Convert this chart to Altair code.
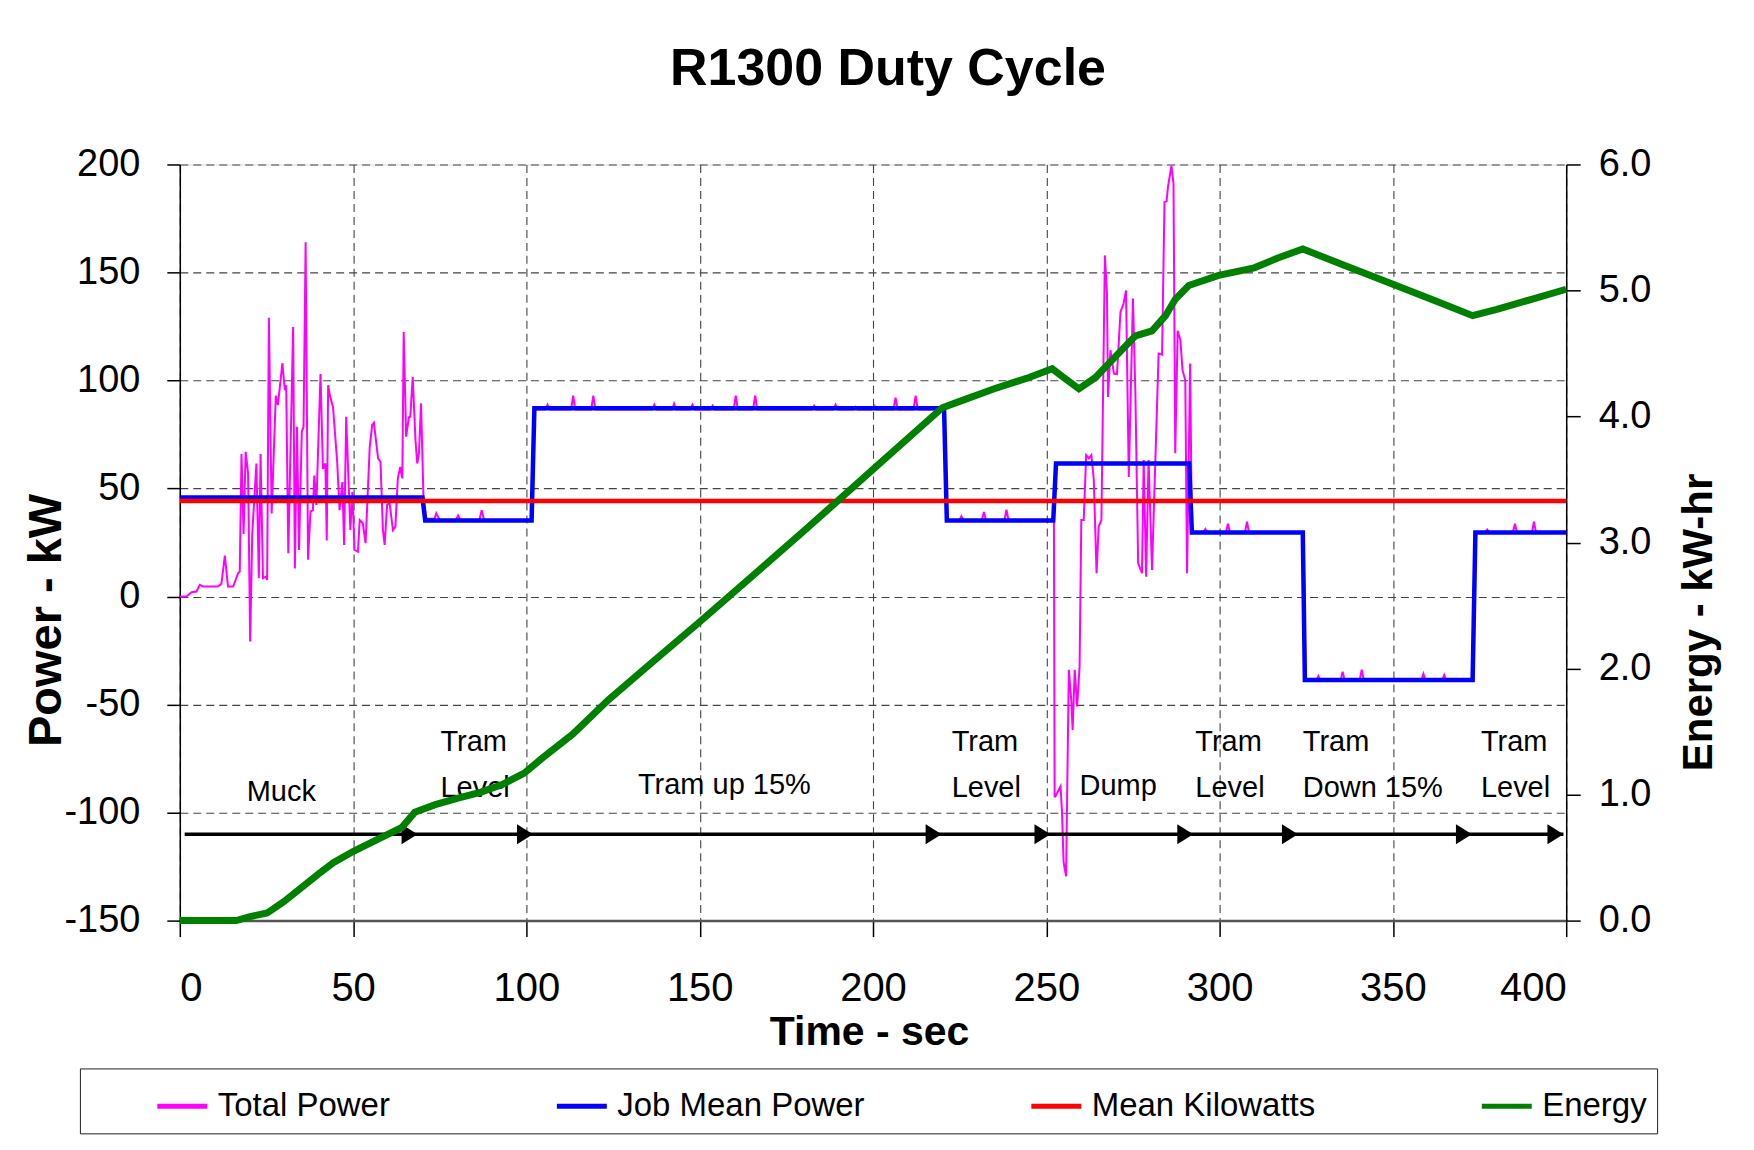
import altair as alt
import pandas as pd

FONT = "Liberation Sans, Arial, sans-serif"

# ---------------- data ----------------
SERIES = ["Total Power", "Job Mean Power", "Mean Kilowatts", "Energy"]
SERIES_COLORS = ["#FF00FF", "#0000FF", "#FF0000", "#008000"]

X_TICKS = [0, 50, 100, 150, 200, 250, 300, 350, 400]
Y_LEFT_TICKS = [-150, -100, -50, 0, 50, 100, 150, 200]
Y_RIGHT_TICKS = [0, 1, 2, 3, 4, 5, 6]

# Total Power (kW) by phase
MUCK_T = [0, 1.9, 3.4, 4.8, 5.8, 6.7, 11.0, 12.0, 13.0, 13.9, 15.4, 16.8, 17.3, 17.8, 18.4,
          19.0, 19.7, 20.3, 20.9, 22.1, 22.8, 23.3, 24.0, 24.8, 25.2, 25.7, 26.5, 27.7, 28.3,
          29.6, 30.3, 30.7, 31.3, 32.7, 33.2, 33.8, 34.4, 35.2, 35.7, 36.3, 37.0, 37.7, 38.4,
          38.8, 39.4, 40.6, 41.3, 42.0, 42.4, 42.8, 43.3, 44.2, 45.4, 46.1, 46.9, 47.4, 48.0,
          49.2, 49.8, 50.4, 51.4, 51.9, 52.8, 53.6, 54.8, 55.5, 56.0, 57.2, 57.9, 58.6, 59.1,
          59.8, 60.5, 61.5, 62.2, 62.9, 63.6, 64.2, 64.6, 65.3, 66.1, 66.5, 67.2, 68.0, 68.5,
          69.0, 69.6, 70.3, 71.1]
MUCK_P = [0, 0, 2, 2.3, 5.4, 4.6, 4.6, 5.9, 19, 4.6, 4.6, 10.8, 11.6, 66, 29,
          67, 57, -20.8, 29, 61.6, 8.5, 66, 8.5, 9.2, 7.7, 129, 38.5, 93, 88.6,
          108, 95.5, 97.8, 20, 124.8, 13, 78.6, 21.6, 76.3, 78.6, 164, 17, 39.3, 40,
          56, 42.4, 103, 59, 61.6, 26, 97.8, 93, 87.8, 62.4, 40, 53, 23.9, 83.2,
          30.8, 48.5, 21.6, 20.8, 35.4, 33.9, 24.7, 69.3, 79.4, 80.4, 64, 62.4, 30.8, 23.9,
          42.4, 43.5, 30.8, 32.4, 54.7, 60, 54.7, 122.5, 74, 83, 83.2, 101.7, 72.4, 61.6,
          66.3, 89.4, 46, 36]

TRAM1_T = [73.5, 74.0, 75.0, 79.6, 80.3, 81.0, 86.4, 87.1, 87.8, 101.6]
TRAM1_P = [36, 38.5, 35.5, 35.2, 37.5, 35.2, 35.2, 40.0, 35.2, 35.2]

UP_T = [102.3, 105.5, 106.1, 106.7, 112.9, 113.5, 114.1, 118.7, 119.3, 119.9, 136.3, 136.9,
        137.5, 142.0, 142.6, 143.2, 147.3, 147.9, 148.5, 153.1, 153.7, 154.3, 159.8, 160.4,
        161.0, 165.4, 166.0, 166.6, 182.4, 183.0, 183.6, 188.6, 189.2, 189.8, 194.4, 195.0,
        195.6, 199.7, 200.3, 200.9, 205.9, 206.5, 207.1, 211.7, 212.3, 212.9, 220.5]
UP_P = [86.6, 86.6, 88.8, 86.6, 86.6, 93.0, 86.6, 86.6, 93.0, 86.6, 86.6, 88.8,
        86.6, 86.6, 89.3, 86.6, 86.6, 88.8, 86.6, 86.6, 88.3, 86.6, 86.6, 93.0,
        86.6, 86.6, 93.0, 86.6, 86.6, 88.3, 86.6, 86.6, 88.8, 86.6, 86.6, 87.8,
        86.6, 86.6, 88.3, 86.6, 86.6, 92.0, 86.6, 86.6, 93.0, 86.6, 86.6]

TRAM2_T = [221.3, 224.9, 225.5, 226.1, 231.4, 232.0, 232.6, 237.9, 238.5, 239.1, 252.0]
TRAM2_P = [35.2, 35.2, 37.2, 35.2, 35.2, 39.2, 35.2, 35.2, 40.2, 35.2, 35.2]

DUMP_T = [252.2, 252.4, 252.6, 254.1, 254.5, 255.0, 255.7, 256.5, 257.2, 257.6, 258.2, 258.9,
          259.6, 260.1, 260.8, 261.5, 262.3, 263.0, 263.7, 264.5, 265.1, 265.9, 266.9, 267.5,
          267.8, 268.5, 269.5, 270.4, 271.4, 272.3, 273.0, 273.8, 275.0, 275.7, 276.5, 277.6,
          278.1, 278.8, 279.5, 280.5, 282.4, 283.4, 284.1, 284.7, 285.1, 286.1, 286.7, 287.2,
          287.9, 288.7, 289.3, 290.1, 290.6, 291.5, 292.0]
DUMP_P = [34.6, -92.5, -92.5, -87.9, -98.7, -123, -129.5, -33.9, -47.8, -61.7, -33.9, -50.9,
          -32.4, 35.4, 35.4, 65.5, 64, 65.5, 54, 10.8, 32.3, 35.4, 157.9, 140.2,
          92.4, 114, 103.2, 103, 131.7, 135.6, 141.7, 55.4, 137.9, 94, 15.4, 10.8,
          63.2, 9.2, 63.2, 12.3, 112.5, 112, 182.6, 183, 189.5, 199.5, 191, 66.3,
          123, 118.6, 104.8, 100.1, 10.8, 107.9, 29.3]

TRAM3_T = [292.6, 295.3, 295.9, 296.5, 301.8, 302.4, 303.0, 307.3, 307.9, 308.5, 324.2]
TRAM3_P = [29.5, 29.5, 31.2, 29.5, 29.5, 33.7, 29.5, 29.5, 34.7, 29.5, 29.5]

DOWN_T = [324.8, 327.9, 328.5, 329.1, 334.9, 335.5, 336.1, 340.4, 341.0, 341.6, 358.2, 358.8,
          359.4, 364.2, 364.8, 365.4, 373.2]
DOWN_P = [-38.8, -38.8, -36.8, -38.8, -38.8, -34.8, -38.8, -38.8, -33.8, -38.8, -38.8, -35.8,
          -38.8, -38.8, -36.3, -38.8, -38.8]

TRAM4_T = [373.8, 376.6, 377.2, 377.8, 384.6, 385.2, 385.8, 390.1, 390.7, 391.3, 400.0]
TRAM4_P = [29.5, 29.5, 31.0, 29.5, 29.5, 33.7, 29.5, 29.5, 34.7, 29.5, 29.5]

# Job Mean Power (kW), step series
JOB_T = [0, 70.0, 70.8, 101.5, 102.3, 220.5, 221.3, 252.0, 252.8, 291.2, 292.0, 324.0,
         324.6, 373.0, 373.8, 400]
JOB_P = [45.9, 45.9, 35.2, 35.2, 87.2, 87.2, 35.2, 35.2, 61.6, 61.6, 29.7, 29.7,
         -38.6, -38.6, 29.7, 29.7]

# Mean Kilowatts
MEAN_T = [0, 400]
MEAN_P = [44.2, 44.2]

# Energy (kW-hr)
ENERGY_T = [0, 14, 16.3, 20, 25.2, 30, 35.5, 40, 44.3, 50.1, 57.5, 64.1, 67.8, 73.7, 80,
            86.9, 93, 99.4, 104.6, 113.4, 123.6, 135, 150, 165, 180, 200, 220, 225, 235,
            245, 251.7, 255, 259.4, 264.2, 268, 275.7, 280.5, 284.4, 287.2, 291.1, 299.7,
            310, 317, 324, 335, 350, 362, 373, 380, 390, 400]
ENERGY_KWH = [0, 0, 0.0, 0.03, 0.06, 0.15, 0.27, 0.37, 0.46, 0.55, 0.65, 0.74, 0.86, 0.92,
              0.97, 1.02, 1.08, 1.17, 1.29, 1.48, 1.75, 2.02, 2.37, 2.73, 3.09, 3.58, 4.07,
              4.12, 4.22, 4.31, 4.38, 4.31, 4.22, 4.31, 4.42, 4.64, 4.68, 4.80, 4.93, 5.04,
              5.12, 5.18, 5.26, 5.33, 5.21, 5.05, 4.92, 4.80, 4.85, 4.93, 5.01]

# Phase arrows
ARROW_START = [1.4]
ARROW_END = [399.2]
ARROW_LEVEL = [-110]
ARROW_TIPS = [68.6, 101.9, 219.8, 251.2, 292.4, 322.6, 372.8, 399.2]

# Phase labels
LABEL_TEXT = ["Muck", "Tram", "Level", "Tram up 15%", "Tram", "Level", "Dump", "Tram", "Level",
              "Tram", "Down 15%", "Tram", "Level"]
LABEL_T = [19.3, 75.2, 75.2, 132.2, 222.7, 222.7, 259.6, 293.0, 293.0, 324.0, 324.0, 375.4, 375.4]
LABEL_P = [-94.5, -71.4, -92.6, -91.5, -71.4, -92.6, -91.7, -71.4, -92.6, -71.4, -92.6, -71.4, -92.6]

# ---------------- frames ----------------
tp_t = MUCK_T + TRAM1_T + UP_T + TRAM2_T + DUMP_T + TRAM3_T + DOWN_T + TRAM4_T
tp_p = MUCK_P + TRAM1_P + UP_P + TRAM2_P + DUMP_P + TRAM3_P + DOWN_P + TRAM4_P
df_tp = pd.DataFrame({"t": tp_t, "v": tp_p, "series": SERIES[0]})
df_job = pd.DataFrame({"t": JOB_T, "v": JOB_P, "series": SERIES[1]})
df_mean = pd.DataFrame({"t": MEAN_T, "v": MEAN_P, "series": SERIES[2]})
df_en = pd.DataFrame({"t": ENERGY_T, "e": ENERGY_KWH, "series": SERIES[3]})
df_arrow = pd.DataFrame({"t": ARROW_START, "t1": ARROW_END, "v": ARROW_LEVEL})
df_tips = pd.DataFrame({"t": ARROW_TIPS, "v": ARROW_LEVEL * len(ARROW_TIPS)})
df_lab = pd.DataFrame({"t": LABEL_T, "v": LABEL_P, "label": LABEL_TEXT})

# ---------------- encodings ----------------
X_AXIS = alt.Axis(values=X_TICKS, title="Time - sec", grid=True, gridDash=[8, 5],
                  gridColor="#444444", gridWidth=1.1, tickSize=16, tickColor="black",
                  tickWidth=1.5, domainColor="#555555", domainWidth=2.5,
                  labelFontSize=40, labelPadding=32, labelColor="black",
                  titleFontSize=41, titleFontWeight="bold", titleColor="black",
                  titleBaseline="alphabetic", titleY=124, titleX=690, titleAlign="center")
Y_AXIS = alt.Axis(values=Y_LEFT_TICKS, title="Power - kW", grid=True, gridDash=[8, 5],
                  gridColor="#444444", gridWidth=1.1, tickSize=13, tickColor="black",
                  tickWidth=1.5, domainColor="black", domainWidth=1.5,
                  labelFontSize=38, labelPadding=27, labelColor="black",
                  labelExpr="replace(datum.label, '\u2212', '-')",
                  titleFontSize=47, titleFontWeight="bold", titleColor="black",
                  titleAngle=270, titleAlign="center", titleBaseline="middle",
                  titleX=-133, titleY=456)
XS = alt.Scale(domain=[0, 400], nice=False, zero=False)
YS = alt.Scale(domain=[-150, 200], nice=False, zero=False)


def xe(f="t"):
    return alt.X(f"{f}:Q", scale=XS, axis=X_AXIS)


def ye(f="v"):
    return alt.Y(f"{f}:Q", scale=YS, axis=Y_AXIS)


LEGEND = alt.Legend(
    title=" ", titleOrient="left", titleFontSize=8, titlePadding=65,
    orient="none", legendX=-100, legendY=905, direction="horizontal", columns=4,
    symbolType="stroke", symbolSize=2500, symbolStrokeWidth=5, labelOffset=8,
    labelFontSize=33, labelColor="black", labelLimit=600, columnPadding=156,
    padding=10, strokeColor="#222222", fillColor="white",
)
COLOR = alt.Color("series:N", scale=alt.Scale(domain=SERIES, range=SERIES_COLORS), legend=LEGEND)

tp = alt.Chart(df_tp).mark_line(strokeWidth=2).encode(x=xe(), y=ye(), color=COLOR)
job = alt.Chart(df_job).mark_line(strokeWidth=4.5).encode(x=xe(), y=ye(), color=COLOR)
mean = alt.Chart(df_mean).mark_line(strokeWidth=4.5).encode(x=xe(), y=ye(), color=COLOR)
arrow = alt.Chart(df_arrow).mark_rule(color="black", strokeWidth=3.5).encode(
    x=xe(), x2="t1:Q", y=ye())
tips = alt.Chart(df_tips).mark_point(shape="M-1.6,-1L0,0L-1.6,1Z", filled=True, color="black",
                                     size=400, opacity=1, strokeWidth=0).encode(x=xe(), y=ye())
labels = alt.Chart(df_lab).mark_text(align="left", baseline="alphabetic", font=FONT,
                                     fontSize=29, color="black").encode(
    x=xe(), y=ye(), text="label:N")

left = alt.layer(tp, job, mean, arrow, tips, labels)

energy = alt.Chart(df_en).mark_line(strokeWidth=7).encode(
    x=xe(),
    y=alt.Y("e:Q", scale=alt.Scale(domain=[0, 6], nice=False, zero=False),
            axis=alt.Axis(orient="right", values=Y_RIGHT_TICKS, format=".1f",
                          title="Energy - kW-hr", grid=False, tickSize=14,
                          tickColor="black", tickWidth=1.5, domainColor="black",
                          domainWidth=1.5, labelFontSize=38, labelPadding=18,
                          labelColor="black", titleFontSize=42, titleFontWeight="bold",
                          titleColor="black", titleAngle=270, titleAlign="center",
                          titleBaseline="middle", titleX=132, titleY=458)),
    color=COLOR,
)

chart = alt.layer(left, energy).resolve_scale(y="independent").properties(
    width=1388, height=757,
    title=alt.TitleParams("R1300 Duty Cycle", fontSize=52, font=FONT, fontWeight="bold",
                          anchor="middle", offset=50, dx=15, color="black"),
    autosize=alt.AutoSizeParams(type="none"),
    padding={"left": 172, "top": 156, "right": 180, "bottom": 225},
).configure_view(stroke="#8c8c8c", strokeWidth=2).configure_axis(
    labelFont=FONT, titleFont=FONT
).configure_legend(labelFont=FONT, titleFont=FONT).configure(background="white")

chart.save("out.html", embed_options={"renderer": "svg", "actions": False})
